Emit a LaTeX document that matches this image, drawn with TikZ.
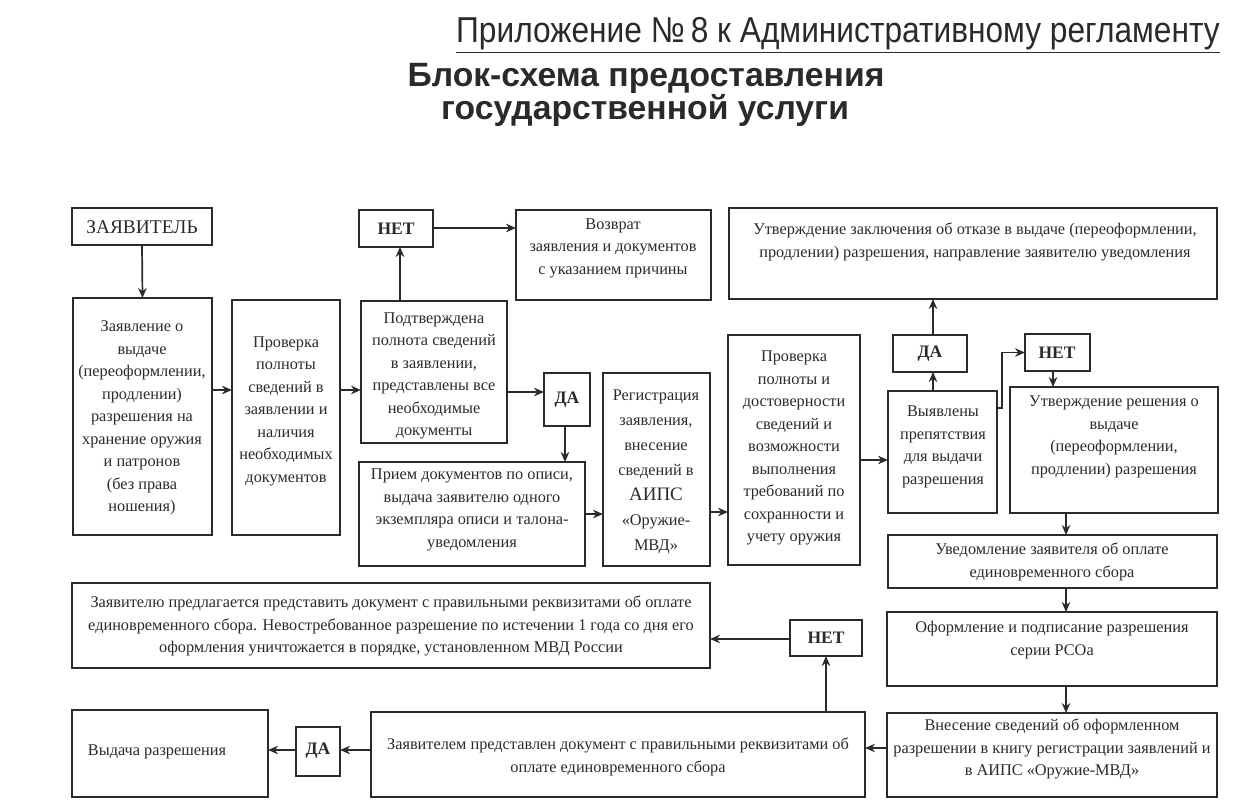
\documentclass[tikz,border=0pt]{standalone}
\usepackage{fontspec}
\setmainfont{Liberation Serif}
\newfontfamily\hsans{Liberation Sans}
\newfontfamily\nsans[FakeStretch=0.88]{Liberation Sans}
\usetikzlibrary{arrows.meta}
\definecolor{ink}{HTML}{2A2A2A}
\newcommand\mybox[5]{\node[box, minimum width={#4pt-#2pt}, minimum height={#5pt-#3pt}] (#1) at ({(#2+#4)/2},{(#3+#5)/2}) {};}
\begin{document}
\begin{tikzpicture}[x=1pt,y=-1pt,
 box/.style={draw=ink, line width=1.6pt, inner sep=0pt, outer sep=0pt},
 txt/.style={text=ink, align=center, font=\fontsize{16.3}{22.5}\selectfont, inner sep=0pt},
 yn/.style={text=ink, font=\fontsize{17.5}{19}\selectfont\bfseries, inner sep=0pt},
 arr/.style={draw=ink, line width=1.7pt, -{Stealth[length=10pt,width=8.5pt]}}]
\useasboundingbox (0,0) rectangle (1248,810);

% titles
\node[anchor=base, text=ink, inner sep=0pt, font=\nsans\fontsize{36}{36}\selectfont] (t1) at (838,43) {\underline{Приложение №\,8 к Административному регламенту}};
\node[anchor=base, text=ink, inner sep=0pt, font=\hsans\bfseries\fontsize{33.7}{36}\selectfont] (t2) at (646,87) {Блок-схема предоставления};
\node[anchor=base, text=ink, inner sep=0pt, font=\hsans\bfseries\fontsize{33.7}{36}\selectfont] (t3) at (645,120) {государственной услуги};

% boxes
\mybox{zay}{72}{208}{212}{245}
\node[txt, font=\fontsize{19.4}{21}\selectfont] (zay-t) at (142,227) {ЗАЯВИТЕЛЬ};

\mybox{app}{73}{298}{212}{535}
\node[txt] (app-t) at (142,418) {Заявление о\\выдаче\\(переоформлении,\\продлении)\\разрешения на\\хранение оружия\\и патронов\\(без права\\ношения)};

\mybox{chk}{232}{300}{340}{535}
\node[txt] (chk-t) at (286,411) {Проверка\\полноты\\сведений в\\заявлении и\\наличия\\необходимых\\документов};

\mybox{conf}{361}{301}{507}{443}
\node[txt] (conf-t) at (434,376) {Подтверждена\\полнота сведений\\в заявлении,\\представлены все\\необходимые\\документы};

\mybox{no1}{359}{210}{433}{247}
\node[yn] (no1-t) at (396,229) {НЕТ};

\mybox{ret}{516}{210}{711}{300}
\node[txt] (ret-t) at (613,248) {Возврат\\заявления и документов\\с указанием причины};

\mybox{yes1}{544}{373}{590}{426}
\node[yn] (yes1-t) at (567,400) {ДА};

\mybox{recv}{359}{462}{585}{566}
\node[txt] (recv-t) at (472,510) {Прием документов по описи,\\выдача заявителю одного\\экземпляра описи и талона-\\уведомления};

\mybox{reg}{603}{373}{710}{566}
\node[txt, font=\fontsize{16.3}{25}\selectfont] (reg-t) at (656,472) {Регистрация\\заявления,\\внесение\\сведений в\\{\fontsize{19}{25}\selectfont АИПС}\\«Оружие-\\МВД»};

\mybox{chk2}{728}{335}{860}{565}
\node[txt] (chk2-t) at (794,448) {Проверка\\полноты и\\достоверности\\сведений и\\возможности\\выполнения\\требований по\\сохранности и\\учету оружия};

\mybox{refuse}{729}{208}{1217}{299}
\node[txt] (refuse-t) at (975,242) {Утверждение заключения об отказе в выдаче (переоформлении,\\продлении) разрешения, направление заявителю уведомления};

\mybox{yes2}{893}{335}{967}{372}
\node[yn] (yes2-t) at (930,354) {ДА};

\mybox{no2}{1025}{334}{1090}{371}
\node[yn] (no2-t) at (1057,353) {НЕТ};

\mybox{found}{888}{391}{997}{513}
\node[txt] (found-t) at (943,447) {Выявлены\\препятствия\\для выдачи\\разрешения};

\mybox{approve}{1010}{387}{1218}{513}
\node[txt] (approve-t) at (1114,437) {Утверждение решения о\\выдаче\\(переоформлении,\\продлении) разрешения};

\mybox{notify}{888}{535}{1217}{588}
\node[txt] (notify-t) at (1052,562) {Уведомление заявителя об оплате\\единовременного сбора};

\mybox{issue}{887}{612}{1217}{686}
\node[txt] (issue-t) at (1052,640) {Оформление и подписание разрешения\\серии РСОа};

\mybox{record}{887}{713}{1217}{797}
\node[txt] (record-t) at (1052,749) {Внесение сведений об оформленном\\разрешении в книгу регистрации заявлений и\\в АИПС «Оружие-МВД»};

\mybox{offer}{72}{583}{710}{668}
\node[txt] (offer-t) at (391,626) {Заявителю предлагается представить документ с правильными реквизитами об оплате\\единовременного сбора. Невостребованное разрешение по истечении 1 года со дня его\\оформления уничтожается в порядке, установленном МВД России};

\mybox{no3}{790}{620}{862}{656}
\node[yn] (no3-t) at (826,638) {НЕТ};

\mybox{give}{72}{710}{268}{797}
\node[txt] (give-t) at (157,752) {Выдача разрешения};

\mybox{yes3}{296}{727}{340}{776}
\node[yn] (yes3-t) at (318,751) {ДА};

\mybox{paid}{371}{712}{865}{797}
\node[txt] (paid-t) at (618,757) {Заявителем представлен документ с правильными реквизитами об\\оплате единовременного сбора};

% connectors
\draw[arr] (zay.south) -- (app.north);
\draw[arr] (app.east |- 0,390) -- (chk.west |- 0,390);
\draw[arr] (chk.east |- 0,390) -- (conf.west |- 0,390);
\draw[arr] (conf.north -| 400,0) -- (no1.south -| 400,0);
\draw[arr] (no1.east |- 0,228) -- (ret.west |- 0,228);
\draw[arr] (conf.east |- 0,392) -- (yes1.west |- 0,392);
\draw[arr] (yes1.south -| 565,0) -- (recv.north -| 565,0);
\draw[arr] (recv.east |- 0,514) -- (reg.west |- 0,514);
\draw[arr] (reg.east |- 0,512) -- (chk2.west |- 0,512);
\draw[arr] (chk2.east |- 0,460) -- (found.west |- 0,460);
\draw[arr] (found.north -| 933,0) -- (yes2.south -| 933,0);
\draw[arr] (yes2.north -| 933,0) -- (refuse.south -| 933,0);
\draw[arr] (found.east |- 0,408) -- ++(5,0) |- (no2.west);
\draw[arr] (no2.south -| 1053,0) -- (approve.north -| 1053,0);
\draw[arr] (approve.south -| 1066,0) -- (notify.north -| 1066,0);
\draw[arr] (notify.south -| 1066,0) -- (issue.north -| 1066,0);
\draw[arr] (issue.south -| 1066,0) -- (record.north -| 1066,0);
\draw[arr] (record.west |- 0,748) -- (paid.east |- 0,748);
\draw[arr] (paid.north -| 826,0) -- (no3.south -| 826,0);
\draw[arr] (no3.west |- 0,639) -- (offer.east |- 0,639);
\draw[arr] (paid.west |- 0,750) -- (yes3.east |- 0,750);
\draw[arr] (yes3.west |- 0,750) -- (give.east |- 0,750);
\end{tikzpicture}
\end{document}
